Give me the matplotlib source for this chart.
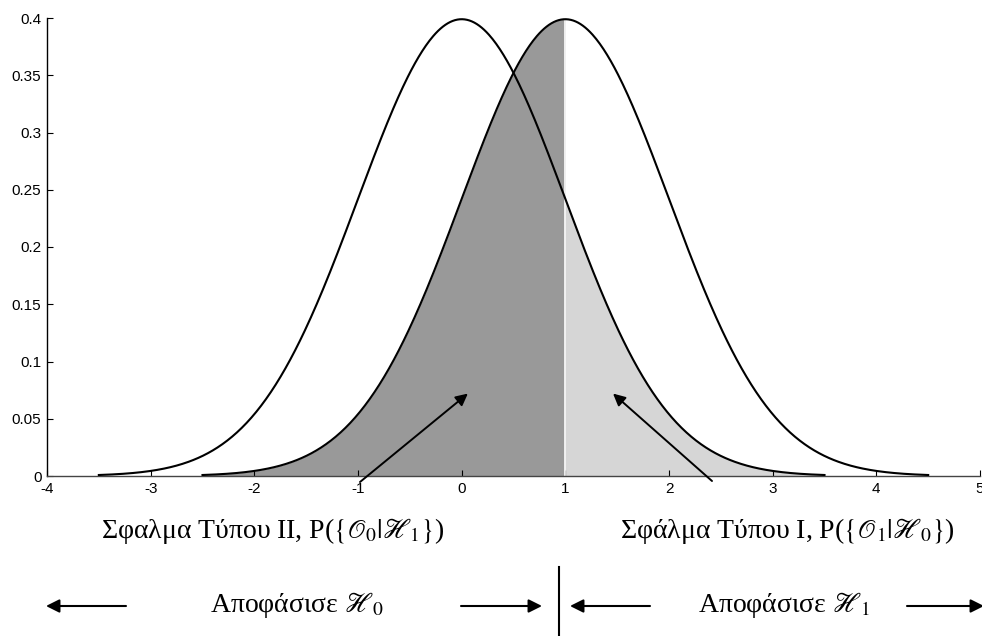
import numpy as np
import matplotlib
matplotlib.use("Agg")
import matplotlib.pyplot as plt
from matplotlib.lines import Line2D

# ---- data / parameters ----
means = [0.0, 1.0]          # H0 and H1 means
sigma = 1.0
half_range = 3.5            # curves drawn over mean +/- 3.5
threshold = 1.0             # decision threshold
x_ticks = [-4, -3, -2, -1, 0, 1, 2, 3, 4, 5]
x_tick_labels = ["-4", "-3", "-2", "-1", "0", "1", "2", "3", "4", "5"]
y_ticks = [0, 0.05, 0.1, 0.15, 0.2, 0.25, 0.3, 0.35, 0.4]
y_tick_labels = ["0", "0.05", "0.1", "0.15", "0.2", "0.25", "0.3", "0.35", "0.4"]
label_err2 = r"Σφαλμα Τύπου II, P($\{\mathscr{O}_0|\mathscr{H}_1\}$)"
label_err1 = r"Σφάλμα Τύπου I, P($\{\mathscr{O}_1|\mathscr{H}_0\}$)"
label_dec0 = r"Αποφάσισε $\mathscr{H}_0$"
label_dec1 = r"Αποφάσισε $\mathscr{H}_1$"


def pdf(x, m, s):
    return np.exp(-0.5 * ((x - m) / s) ** 2) / (s * np.sqrt(2 * np.pi))


plt.rcParams["mathtext.fontset"] = "stix"

W, H = 982, 636
fig = plt.figure(figsize=(W / 100, H / 100), dpi=100)
ax = fig.add_axes([47 / W, 1 - 476 / H, 933 / W, 458 / H])

x0 = np.linspace(means[0] - half_range, means[0] + half_range, 600)
x1 = np.linspace(means[1] - half_range, means[1] + half_range, 600)

# shaded error areas
xd = x1[x1 <= threshold]
xd = np.append(xd, threshold)
ax.fill_between(xd, 0, pdf(xd, means[1], sigma), color="#999999", lw=0, zorder=1)
xl = x0[x0 >= threshold]
xl = np.insert(xl, 0, threshold)
ax.fill_between(xl, 0, pdf(xl, means[0], sigma), color="#d6d6d6", lw=0, zorder=1)
ax.plot([threshold, threshold], [0, pdf(threshold, means[1], sigma)],
        color="white", lw=1.2, zorder=2)

# curves
ax.plot(x0, pdf(x0, means[0], sigma), color="black", lw=1.5, zorder=3)
ax.plot(x1, pdf(x1, means[1], sigma), color="black", lw=1.5, zorder=3)

ax.set_xlim(-4, 5)
ax.set_ylim(0, 0.4)
ax.set_xticks(x_ticks)
ax.set_xticklabels(x_tick_labels)
ax.set_yticks(y_ticks)
ax.set_yticklabels(y_tick_labels)
for s in ["top", "right"]:
    ax.spines[s].set_visible(False)
ax.spines["left"].set_color("black")
ax.spines["left"].set_linewidth(1.0)
ax.spines["bottom"].set_color("#444444")
ax.spines["bottom"].set_linewidth(1.0)
ax.tick_params(direction="in", length=4, width=0.8, pad=4,
               labelsize=11, colors="black")
for lab in ax.get_xticklabels() + ax.get_yticklabels():
    lab.set_fontfamily("Liberation Sans")
ax.patch.set_alpha(0)

serif = "Liberation Serif"
fs = 20

# error annotations
ax.annotate("", xy=(0.06, 0.072), xycoords="data",
            xytext=(360, H - 482), textcoords="figure pixels",
            arrowprops=dict(arrowstyle="-|>", lw=1.4, color="black",
                            mutation_scale=18, shrinkA=0, shrinkB=0))
ax.annotate("", xy=(1.46, 0.072), xycoords="data",
            xytext=(712, H - 481), textcoords="figure pixels",
            arrowprops=dict(arrowstyle="-|>", lw=1.4, color="black",
                            mutation_scale=18, shrinkA=0, shrinkB=0))
fig.text(273 / W, 1 - 531 / H, label_err2, ha="center", va="center",
         fontsize=fs, fontfamily=serif)
fig.text(787 / W, 1 - 531 / H, label_err1, ha="center", va="center",
         fontsize=fs, fontfamily=serif)

# decision regions
fig.text(297 / W, 1 - 605 / H, label_dec0, ha="center", va="center",
         fontsize=fs, fontfamily=serif)
fig.text(784 / W, 1 - 605 / H, label_dec1, ha="center", va="center",
         fontsize=fs, fontfamily=serif)

ya = H - 606
for tail, tip in [(126, 46), (461, 542), (650, 570), (907, 984)]:
    fig.add_artist(matplotlib.patches.FancyArrowPatch(
        (tail / W, ya / H), (tip / W, ya / H), transform=fig.transFigure,
        arrowstyle="-|>", mutation_scale=20, lw=1.5, color="black",
        shrinkA=0, shrinkB=0))
fig.add_artist(Line2D([559 / W, 559 / W], [1 / H, 69 / H],
                      transform=fig.transFigure, color="black", lw=1.5))

fig.savefig("out.png", dpi=100)
